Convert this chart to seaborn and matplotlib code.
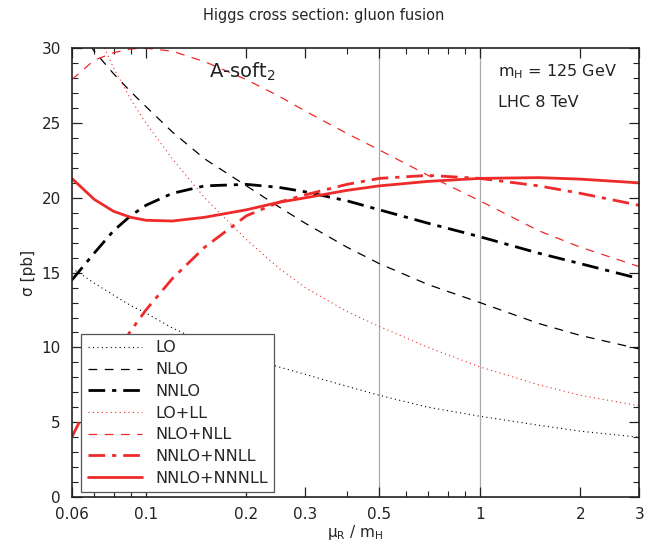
import matplotlib
matplotlib.use("Agg")
import matplotlib.pyplot as plt
from matplotlib.ticker import FixedLocator, NullFormatter, MultipleLocator
import seaborn as sns

# ---- data ----
mu = [0.06, 0.07, 0.08, 0.09, 0.1, 0.12, 0.15, 0.2, 0.25, 0.3, 0.4, 0.5, 0.7, 1.0, 1.5, 2.0, 3.0]

lo = [15.3, 14.3, 13.5, 12.8, 12.3, 11.3, 10.3, 9.3, 8.7, 8.2, 7.4, 6.8, 6.0, 5.4, 4.8, 4.4, 4.0]
nlo = [32.0, 29.8, 28.3, 27.1, 26.1, 24.4, 22.6, 20.8, 19.4, 18.3, 16.7, 15.6, 14.2, 13.0, 11.6, 10.8, 9.9]
nnlo = [14.5, 16.3, 17.8, 18.8, 19.5, 20.3, 20.8, 20.9, 20.7, 20.4, 19.8, 19.2, 18.3, 17.4, 16.3, 15.6, 14.6]
lo_ll = [35.0, 31.5, 28.7, 26.6, 25.0, 22.6, 20.0, 17.2, 15.3, 14.0, 12.4, 11.4, 10.0, 8.7, 7.5, 6.8, 6.1]
nlo_nll = [27.9, 29.2, 29.7, 29.95, 30.0, 29.8, 29.1, 27.9, 26.8, 25.8, 24.3, 23.2, 21.5, 19.8, 17.8, 16.7, 15.4]
nnlo_nnll = [4.0, 7.0, 9.4, 11.1, 12.5, 14.6, 16.7, 18.8, 19.7, 20.2, 20.9, 21.3, 21.5, 21.3, 20.8, 20.3, 19.5]
nnlo_nnnll = [21.3, 19.9, 19.1, 18.7, 18.5, 18.45, 18.7, 19.2, 19.7, 20.0, 20.5, 20.8, 21.1, 21.3, 21.35, 21.25, 21.0]

labels = ["LO", "NLO", "NNLO", "LO+LL", "NLO+NLL", "NNLO+NNLL", "NNLO+NNNLL"]
series = [lo, nlo, nnlo, lo_ll, nlo_nll, nnlo_nnll, nnlo_nnnll]

# ---- style ----
sns.set_style("ticks")
plt.rcParams["font.family"] = ["DejaVu Sans"]
plt.rcParams["mathtext.fontset"] = "dejavusans"
plt.rcParams["xtick.direction"] = "in"
plt.rcParams["ytick.direction"] = "in"

RED = "#ee2a2a"
styles = [
    dict(color="black", ls=(0, (1, 3)), lw=0.8),
    dict(color="black", ls=(0, (7, 6)), lw=0.9),
    dict(color="black", ls=(0, (6, 2.5, 1.5, 2.5)), lw=2.0),
    dict(color=RED, ls=(0, (1, 3)), lw=0.8),
    dict(color=RED, ls=(0, (7, 6)), lw=0.9),
    dict(color=RED, ls=(0, (6, 2.5, 1.5, 2.5)), lw=2.0),
    dict(color=RED, ls="-", lw=2.0),
]

fig = plt.figure(figsize=(6.47, 5.48), dpi=100)
ax = fig.add_axes([0.111, 0.093, 0.877, 0.819])

ax.axvline(0.5, color="#aaaaaa", lw=0.9, zorder=0)
ax.axvline(1.0, color="#aaaaaa", lw=0.9, zorder=0)

for lab, ys, st in zip(labels, series, styles):
    sns.lineplot(x=mu, y=ys, ax=ax, label=lab, color=st["color"],
                 linestyle=st["ls"], linewidth=st["lw"])

ax.set_xscale("log")
ax.set_xlim(0.06, 3)
ax.set_ylim(0, 30)

ax.xaxis.set_major_locator(FixedLocator([0.06, 0.1, 0.2, 0.3, 0.5, 1, 2, 3]))
ax.set_xticklabels(["0.06", "0.1", "0.2", "0.3", "0.5", "1", "2", "3"])
ax.xaxis.set_minor_locator(FixedLocator([0.07, 0.08, 0.09, 0.4, 0.6, 0.7, 0.8, 0.9]))
ax.xaxis.set_minor_formatter(NullFormatter())
ax.yaxis.set_major_locator(MultipleLocator(5))
ax.yaxis.set_minor_locator(MultipleLocator(1))

ax.tick_params(which="both", top=True, right=True, labelsize=11, colors="#222222")
ax.tick_params(which="major", length=7, width=0.9)
ax.tick_params(which="minor", length=4, width=0.8)
ax.tick_params(axis="x", which="major", pad=7)
ax.tick_params(axis="y", which="major", pad=8)
for sp in ax.spines.values():
    sp.set_linewidth(1.2)
    sp.set_color("#222222")

ax.set_xlabel(r"$\mathregular{\mu_R}$ / $\mathregular{m_H}$", fontsize=11, labelpad=1)
ax.set_ylabel("σ [pb]", fontsize=11, labelpad=4)
fig.suptitle("Higgs cross section: gluon fusion", fontsize=10.5, y=0.985)

ax.text(0.155, 28.0, r"A-soft$\mathregular{_2}$", fontsize=14, color="#222222")
ax.text(1.13, 28.1, r"$\mathregular{m_H}$ = 125 GeV", fontsize=11.5, color="#222222")
ax.text(1.13, 26.1, "LHC 8 TeV", fontsize=11.5, color="#222222")

leg = ax.legend(loc="lower left", bbox_to_anchor=(0.017, 0.011), handlelength=3.4,
                fontsize=11.5, frameon=True, fancybox=False, edgecolor="#555555",
                borderpad=0.4, labelspacing=0.42, handletextpad=0.8,
                borderaxespad=0)
leg.get_frame().set_linewidth(0.9)
leg.get_frame().set_alpha(1)

fig.savefig("out.png", dpi=100)
